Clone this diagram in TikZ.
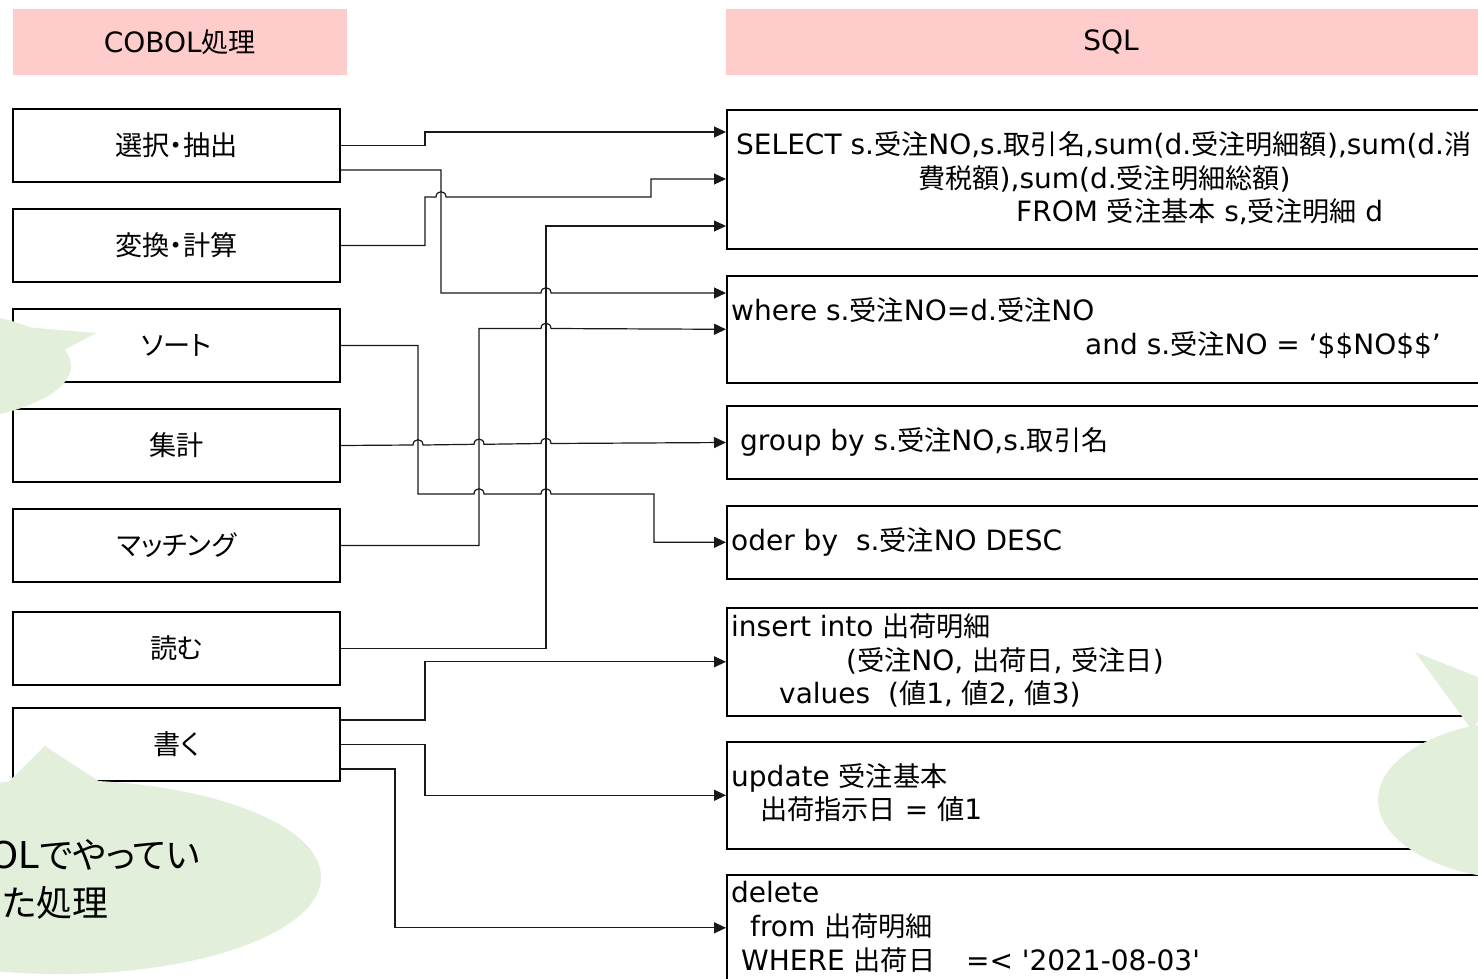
\documentclass[tikz,border=0pt]{standalone}
\usepackage{fontspec}
\setmainfont{DejaVu Sans}
\newfontfamily\latf{DejaVu Sans}
\newfontfamily\cjkf[Scale=0.97,RawFeature={+palt}]{Noto Sans CJK JP}
\usetikzlibrary{arrows.meta,calc}
\XeTeXinterchartokenstate=1
\newXeTeXintercharclass\cjkclass
\newcount\mycnt
\def\setcjkrange#1#2{\mycnt=#1\relax
  \loop \XeTeXcharclass\mycnt=\cjkclass\relax
  \ifnum\mycnt<#2\relax \advance\mycnt by 1\relax \repeat}
\setcjkrange{"3000}{"30FF}
\setcjkrange{"4E00}{"9FFF}
\setcjkrange{"FF00}{"FFEF}
\XeTeXinterchartoks 0 \cjkclass = {\cjkf}
\XeTeXinterchartoks 4095 \cjkclass = {\cjkf}
\XeTeXinterchartoks \cjkclass 0 = {\latf}
\XeTeXinterchartoks \cjkclass 4095 = {\latf}
\definecolor{hdrpink}{RGB}{255,204,204}
\definecolor{bubgreen}{RGB}{226,239,218}
\tikzset{
  hdr/.style={fill=hdrpink, draw=none, minimum height=66pt, inner sep=0pt, font=\fontsize{28}{34}\selectfont},
  lbox/.style={draw=black, line width=1.6pt, fill=white, minimum width=327pt, minimum height=73pt, inner sep=0pt, font=\fontsize{28}{32}\selectfont},
  rbox/.style={draw=black, line width=1.6pt, fill=white, minimum width=770pt, anchor=north west, inner sep=0pt},
  stxt/.style={anchor=base west, inner sep=0pt, font=\fontsize{28}{34}\selectfont},
  conn/.style={line width=1.2pt, draw=black!90, -{Triangle[length=12pt,width=11pt]}},
  bubble/.style={fill=bubgreen, draw=none},
}
\begin{document}
\begin{tikzpicture}[x=1pt,y=-1pt]
\useasboundingbox (0,0) rectangle (1478,979);
\fill[white] (0,0) rectangle (1478,979);
\clip (0,0) rectangle (1478,979);
% headers
\node[hdr, minimum width=334pt] (hL) at (180,42) {COBOL処理};
\node[hdr, minimum width=770pt] (hR) at (1111,42) {SQL};
% left boxes
\node[lbox] (L1) at (176.5,145.5) {選択・抽出};
\node[lbox] (L2) at (176.5,245.5) {変換・計算};
\node[lbox] (L3) at (176.5,345.5) {ソート};
\node[lbox] (L4) at (176.5,445.5) {集計};
\node[lbox] (L5) at (176.5,545.5) {マッチング};
\node[lbox] (L6) at (176.5,648.5) {読む};
\node[lbox] (L7) at (176.5,744.5) {書く};
% right boxes
\node[rbox, minimum height=139pt] (R1) at (726,109) {};
\node[rbox, minimum height=107pt] (R2) at (726,275) {};
\node[rbox, minimum height=73pt] (R3) at (726,405) {};
\node[rbox, minimum height=73pt] (R4) at (726,505) {};
\node[rbox, minimum height=108pt] (R5) at (726,607) {};
\node[rbox, minimum height=107pt] (R6) at (726,741) {};
\node[rbox, minimum height=106pt] (R7) at (726,874) {};
% right texts
\node[stxt] (s1) at (736,154) {SELECT s.受注NO,s.取引名,sum(d.受注明細額),sum(d.消};
\node[stxt] (s2) at (918,188) {費税額),sum(d.受注明細総額)};
\node[stxt] (s3) at (1016,221) {FROM 受注基本 s,受注明細 d};
\node[stxt] (w1) at (731,320) {where s.受注NO=d.受注NO};
\node[stxt] (w2) at (1085,354) {and s.受注NO = ‘\$\$NO\$\$’};
\node[stxt] (g1) at (740,450) {group by s.受注NO,s.取引名};
\node[stxt] (o1) at (731,550) {oder by\hspace{9pt} s.受注NO DESC};
\node[stxt] (i1) at (731,636) {insert into 出荷明細};
\node[stxt] (i2) at (846,670) {(受注NO, 出荷日, 受注日)};
\node[stxt] (i3) at (779,703) {values\hspace{9pt} (値1, 値2, 値3)};
\node[stxt] (u1) at (731,786) {update 受注基本};
\node[stxt] (u2) at (760,819) {出荷指示日 = 値1};
\node[stxt] (d1) at (731,902) {delete};
\node[stxt] (d2) at (750,936) {from 出荷明細};
\node[stxt] (d3) at (741,970) {WHERE 出荷日\hspace{22pt} =< \textquotesingle 2021-08-03\textquotesingle};
% connectors
\draw[conn] (L1.east) -| (425,132) -- (R1.west |- 0,132);
\draw[conn] ($(L1.east)+(0,24.5)$) -- (441,170) -- (441,293) -- (541,293) .. controls (541,286) and (551,286) .. (551,293) -- (R2.west |- 0,293);
\draw[conn] (L2.east) -| (425,197) -- (436,197) .. controls (436,190) and (446,190) .. (446,197) -- (651,197) |- (R1.west |- 0,179);
\draw[conn] (L6.east) -| (546,226) -- (R1.west |- 0,226);
\draw[conn] (L5.east) -| (479,328.5) -- (541,328.5) .. controls (541,321.5) and (551,321.5) .. (551,328.5) -- (R2.west);
\draw[conn] (L4.east) -- (413,445) .. controls (413,438) and (423,438) .. (423,445)
  -- (474,444.3) .. controls (474,437.3) and (484,437.3) .. (484,444.3)
  -- (541,443.5) .. controls (541,436.5) and (551,436.5) .. (551,443.5) -- (R3.west |- 0,442.5);
\draw[conn] (L3.east) -| (418,494) -- (474,494) .. controls (474,487) and (484,487) .. (484,494)
  -- (541,494) .. controls (541,487) and (551,487) .. (551,494) -- (654,494) |- (R4.west);
\draw[conn] ($(L7.east)+(0,-24.5)$) -- (425,720) |- (R5.west);
\draw[conn] (L7.east) -- (425,744.5) |- (R6.west);
\draw[conn] ($(L7.east)+(0,24.5)$) -- (395,769) |- (R7.west);
% bubbles
\fill[bubble] (-90,366) ellipse [x radius=161, y radius=58];
\fill[bubble] (0,325) -- (96,333) -- (60,352) -- cycle;
\fill[bubble] (60,877) ellipse [x radius=261, y radius=97];
\fill[bubble] (-10,800) -- (45,746) -- (100,782) -- cycle;
\node[font=\fontsize{37}{48}\selectfont, align=center, inner sep=0pt] (btxt) at (55,879) {COBOLでやってい\\た処理};
\fill[bubble] (1530,800) ellipse [x radius=152, y radius=80];
\fill[bubble] (1415,652) -- (1500,686) -- (1472,730) -- cycle;
\end{tikzpicture}
\end{document}
